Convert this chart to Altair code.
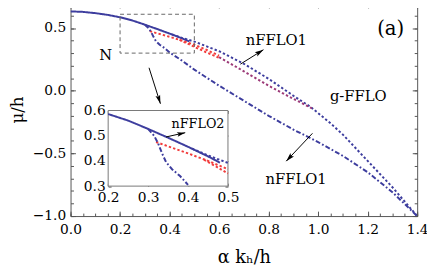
import math
import altair as alt
import pandas as pd

# ---------------- data ----------------
x_major = [0.0, 0.2, 0.4, 0.6, 0.8, 1.0, 1.2, 1.4]
x_minor = [0.0, 0.05, 0.1, 0.15, 0.2, 0.25, 0.3, 0.35, 0.4, 0.45, 0.5, 0.55, 0.6, 0.65,
           0.7, 0.75, 0.8, 0.85, 0.9, 0.95, 1.0, 1.05, 1.1, 1.15, 1.2, 1.25, 1.3, 1.35, 1.4]
y_major = [-1.0, -0.5, 0.0, 0.5]
y_minor = [-1.0, -0.9, -0.8, -0.7, -0.6, -0.5, -0.4, -0.3, -0.2, -0.1, 0.0,
           0.1, 0.2, 0.3, 0.4, 0.5, 0.6, 0.7]
x_domain = [0.0, 1.4]
y_domain = [-1.0, 0.7]

inset_x_domain = [0.2, 0.5]
inset_y_domain = [0.3, 0.6]
inset_x_ticks = [0.2, 0.3, 0.4, 0.5]
inset_y_ticks = [0.3, 0.4, 0.5, 0.6]

# normal-state boundary (solid)
solid_x = [0.0, 0.05, 0.1, 0.15, 0.2, 0.25, 0.3, 0.35, 0.4, 0.45, 0.48]
solid_y = [0.633, 0.629, 0.619, 0.605, 0.586, 0.560, 0.527, 0.492, 0.456, 0.418, 0.393]
# nFFLO1 upper boundary (blue dotted)
upper_x = [0.41, 0.45, 0.5, 0.6, 0.7, 0.8, 0.9, 0.97, 1.05, 1.1, 1.2, 1.3, 1.4]
upper_y = [0.449, 0.422, 0.392, 0.315, 0.215, 0.095, -0.04, -0.13, -0.26, -0.35, -0.56, -0.77, -1.0]
# g-FFLO boundaries (red dotted, then purple)
red1_x = [0.32, 0.35, 0.4, 0.45, 0.5, 0.55, 0.6]
red1_y = [0.475, 0.458, 0.430, 0.400, 0.367, 0.325, 0.280]
red2_x = [0.44, 0.47, 0.5, 0.55, 0.6]
red2_y = [0.405, 0.378, 0.350, 0.305, 0.262]
purple_x = [0.6, 0.7, 0.8, 0.9, 0.975]
purple_y = [0.268, 0.155, 0.040, -0.065, -0.140]
# nFFLO1 lower boundary (blue dash-dot)
lower_x = [0.3, 0.315, 0.325, 0.335, 0.345, 0.36, 0.38, 0.4, 0.45, 0.5, 0.6, 0.7,
           0.8, 0.9, 1.0, 1.1, 1.2, 1.3, 1.4]
lower_y = [0.527, 0.50, 0.47, 0.43, 0.395, 0.367, 0.34, 0.305, 0.24, 0.168, 0.04, -0.08,
           -0.2, -0.31, -0.41, -0.52, -0.65, -0.81, -1.0]

# zoom box
box_x = [0.2, 0.5]
box_y = [0.3, 0.61]

# labels
label_text = ["N", "nFFLO1", "g-FFLO", "nFFLO1"]
label_x = [0.142, 0.831, 1.162, 0.911]
label_y = [0.288, 0.405, -0.04, -0.706]
panel_text = ["(a)"]
panel_x = [1.293]
panel_y = [0.494]
inset_label_text = ["nFFLO2"]
inset_label_x = [0.425]
inset_label_y = [0.545]

# arrows (start -> tip)
arrow_x1 = [0.317, 0.686, 0.977]
arrow_y1 = [0.183, 0.212, -0.340]
arrow_x2 = [0.363, 0.779, 0.871]
arrow_y2 = [-0.104, 0.327, -0.562]
inset_arrow_x1 = [0.345]
inset_arrow_y1 = [0.495]
inset_arrow_x2 = [0.393]
inset_arrow_y2 = [0.512]

# ---------------- style / layout ----------------
W, H = 353, 217
IN_L, IN_R, IN_T, IN_B = 38.3, 160.3, 109.5, 186.5
BLUE = "#3d3d9e"
RED = "#f23c3c"
PURPLE = "#9c3a78"
FRAME = "#555555"
FONT = "DejaVu Serif"
TICK_FS = 14
TEXT_FS = 15

names = ["solid", "upper", "red1", "red2", "purple", "lower"]
series = {
    "solid": (solid_x, solid_y),
    "upper": (upper_x, upper_y),
    "red1": (red1_x, red1_y),
    "red2": (red2_x, red2_y),
    "purple": (purple_x, purple_y),
    "lower": (lower_x, lower_y),
}
rows = []
for n in names:
    xs, ys = series[n]
    for i, (a, b) in enumerate(zip(xs, ys)):
        rows.append({"x": a, "y": b, "s": n, "i": i})
curves = pd.DataFrame(rows)

color_scale = alt.Scale(domain=names, range=[BLUE, BLUE, RED, RED, PURPLE, BLUE])
dash_scale = alt.Scale(domain=names, range=[[1, 0], [2.4, 2.2], [2.4, 2.2], [2.4, 2.2],
                                            [2.4, 2.2], [5, 2.2, 1.8, 2.2]])

xm = alt.Scale(domain=x_domain, nice=False, zero=False)
ym = alt.Scale(domain=y_domain, nice=False, zero=False)
xi = alt.Scale(domain=inset_x_domain, range=[IN_L, IN_R], nice=False, zero=False)
yi = alt.Scale(domain=inset_y_domain, range=[IN_B, IN_T], nice=False, zero=False)


def arrow_frames(x1, y1, x2, y2, sx, sy):
    lines, heads = [], []
    for k in range(len(x1)):
        lines.append({"x": x1[k], "y": y1[k], "a": k, "o": 0})
        lines.append({"x": x2[k], "y": y2[k], "a": k, "o": 1})
        dx = (x2[k] - x1[k]) * sx
        dy = -(y2[k] - y1[k]) * sy
        ang = math.degrees(math.atan2(dx, -dy)) % 360
        heads.append({"x": x2[k], "y": y2[k], "ang": ang})
    return pd.DataFrame(lines), pd.DataFrame(heads)


HEAD = "M0,0L0.55,2L0,1.6L-0.55,2Z"

# ---------------- main panel ----------------
lines_main = alt.Chart(curves).mark_line(strokeWidth=2, clip=True).encode(
    x=alt.X("x:Q", scale=xm, axis=alt.Axis(
        orient="bottom", values=x_major, format=".1f", ticks=False, domain=False,
        labelFlush=False, labelOverlap=False, labelPadding=7, labelFontSize=TICK_FS,
        title="α kₕ/h", titleFontSize=18, titlePadding=12)),
    y=alt.Y("y:Q", scale=ym, axis=alt.Axis(
        orient="left", values=y_major, format=".1f", ticks=False, domain=False,
        labelOverlap=False, labelPadding=5, labelFontSize=TICK_FS,
        title="μ/h", titleFontSize=17, titlePadding=6)),
    color=alt.Color("s:N", scale=color_scale, legend=None),
    strokeDash=alt.StrokeDash("s:N", scale=dash_scale, legend=None),
    detail="s:N",
    order="i:Q",
)


def tick_layer(xs, ys, xorient, xoff, yorient, yoff, xv, yv, size):
    return alt.Chart(curves).mark_point(opacity=0).encode(
        x=alt.X("x:Q", scale=xs, axis=alt.Axis(
            orient=xorient, offset=xoff, values=xv, tickSize=size, tickColor=FRAME,
            labels=False, domain=False, title=None)),
        y=alt.Y("y:Q", scale=ys, axis=alt.Axis(
            orient=yorient, offset=yoff, values=yv, tickSize=size, tickColor=FRAME,
            labels=False, domain=False, title=None)),
    )


t1 = tick_layer(xm, ym, "top", -H, "right", -W, x_major, y_major, 5)
t2 = tick_layer(xm, ym, "top", -H, "right", -W, x_minor, y_minor, 3)
t3 = tick_layer(xm, ym, "bottom", -H, "left", -W, x_major, y_major, 5)
t4 = tick_layer(xm, ym, "bottom", -H, "left", -W, x_minor, y_minor, 3)

box_df = pd.DataFrame({"x0": [box_x[0]], "x1": [box_x[1]], "y0": [box_y[0]], "y1": [box_y[1]]})
box = alt.Chart(box_df).mark_rect(fillOpacity=0, stroke="#666666", strokeWidth=1,
                                  strokeDash=[4, 3]).encode(
    x=alt.X("x0:Q", scale=xm, axis=None), x2="x1:Q",
    y=alt.Y("y0:Q", scale=ym, axis=None), y2="y1:Q",
)

arr_l, arr_h = arrow_frames(arrow_x1, arrow_y1, arrow_x2, arrow_y2,
                            W / (x_domain[1] - x_domain[0]), H / (y_domain[1] - y_domain[0]))
arrows = alt.Chart(arr_l).mark_line(color="black", strokeWidth=1).encode(
    x=alt.X("x:Q", scale=xm, axis=None), y=alt.Y("y:Q", scale=ym, axis=None),
    detail="a:N", order="o:Q")
heads = alt.Chart(arr_h).mark_point(shape=HEAD, filled=True, color="black", opacity=1,
                                    size=80).encode(
    x=alt.X("x:Q", scale=xm, axis=None), y=alt.Y("y:Q", scale=ym, axis=None),
    angle=alt.Angle("ang:Q", scale=None))

lab_df = pd.DataFrame({"x": label_x, "y": label_y, "t": label_text})
labels = alt.Chart(lab_df).mark_text(font=FONT, fontSize=TEXT_FS, color="black").encode(
    x=alt.X("x:Q", scale=xm, axis=None), y=alt.Y("y:Q", scale=ym, axis=None), text="t:N")
pan_df = pd.DataFrame({"x": panel_x, "y": panel_y, "t": panel_text})
panel = alt.Chart(pan_df).mark_text(font=FONT, fontSize=20, color="black").encode(
    x=alt.X("x:Q", scale=xm, axis=None), y=alt.Y("y:Q", scale=ym, axis=None), text="t:N")

main = alt.layer(lines_main, box, arrows, heads, labels, panel, t1, t2, t3, t4).resolve_axis(
    x="independent", y="independent")

# ---------------- inset ----------------
frame_df = pd.DataFrame({"x0": [inset_x_domain[0]], "x1": [inset_x_domain[1]],
                         "y0": [inset_y_domain[0]], "y1": [inset_y_domain[1]]})
in_frame = alt.Chart(frame_df).mark_rect(fill="white", stroke="#777777", strokeWidth=1).encode(
    x=alt.X("x0:Q", scale=xi, axis=alt.Axis(
        orient="bottom", offset=-(H - IN_B), values=inset_x_ticks, format=".1f",
        ticks=False, domain=False, labelFlush=False, labelOverlap=False,
        labelPadding=5, labelFontSize=TICK_FS, title=None)),
    x2="x1:Q",
    y=alt.Y("y0:Q", scale=yi, axis=alt.Axis(
        orient="left", offset=-IN_L, values=inset_y_ticks, format=".1f",
        ticks=False, domain=False, labelOverlap=False, labelPadding=3,
        labelFontSize=TICK_FS, title=None)),
    y2="y1:Q",
)

in_lines = alt.Chart(curves).transform_filter(
    (alt.datum.x >= inset_x_domain[0]) & (alt.datum.x <= inset_x_domain[1])
    & (alt.datum.y >= inset_y_domain[0]) & (alt.datum.y <= inset_y_domain[1])
).mark_line(strokeWidth=2).encode(
    x=alt.X("x:Q", scale=xi, axis=None),
    y=alt.Y("y:Q", scale=yi, axis=None),
    color=alt.Color("s:N", scale=color_scale, legend=None),
    strokeDash=alt.StrokeDash("s:N", scale=dash_scale, legend=None),
    detail="s:N",
    order="i:Q",
)

it1 = tick_layer(xi, yi, "top", -IN_B, "right", -(W - IN_L), inset_x_ticks, inset_y_ticks, 3)
it2 = tick_layer(xi, yi, "bottom", -(H - IN_T), "left", -IN_R, inset_x_ticks, inset_y_ticks, 3)

ia_l, ia_h = arrow_frames(inset_arrow_x1, inset_arrow_y1, inset_arrow_x2, inset_arrow_y2,
                          (IN_R - IN_L) / (inset_x_domain[1] - inset_x_domain[0]),
                          (IN_B - IN_T) / (inset_y_domain[1] - inset_y_domain[0]))
in_arrow = alt.Chart(ia_l).mark_line(color="black", strokeWidth=1).encode(
    x=alt.X("x:Q", scale=xi, axis=None), y=alt.Y("y:Q", scale=yi, axis=None),
    detail="a:N", order="o:Q")
in_head = alt.Chart(ia_h).mark_point(shape=HEAD, filled=True, color="black", opacity=1,
                                     size=70).encode(
    x=alt.X("x:Q", scale=xi, axis=None), y=alt.Y("y:Q", scale=yi, axis=None),
    angle=alt.Angle("ang:Q", scale=None))
in_lab_df = pd.DataFrame({"x": inset_label_x, "y": inset_label_y, "t": inset_label_text})
in_label = alt.Chart(in_lab_df).mark_text(font=FONT, fontSize=13, color="black").encode(
    x=alt.X("x:Q", scale=xi, axis=None), y=alt.Y("y:Q", scale=yi, axis=None), text="t:N")

inset = alt.layer(in_frame, in_lines, in_arrow, in_head, in_label, it1, it2).resolve_axis(
    x="independent", y="independent")

chart = alt.layer(main, inset).resolve_scale(
    x="independent", y="independent"
).properties(
    width=W, height=H,
    autosize=alt.AutoSizeParams(type="none"),
    padding={"left": 63.7, "top": -7.5, "right": 10, "bottom": 50},
).configure_view(
    stroke=FRAME, strokeWidth=1
).configure_axis(
    grid=False, labelFont=FONT, titleFont=FONT, labelColor="black", titleColor="black",
    titleFontWeight="normal"
)

chart.save("out.html", embed_options={"renderer": "svg", "actions": False})
